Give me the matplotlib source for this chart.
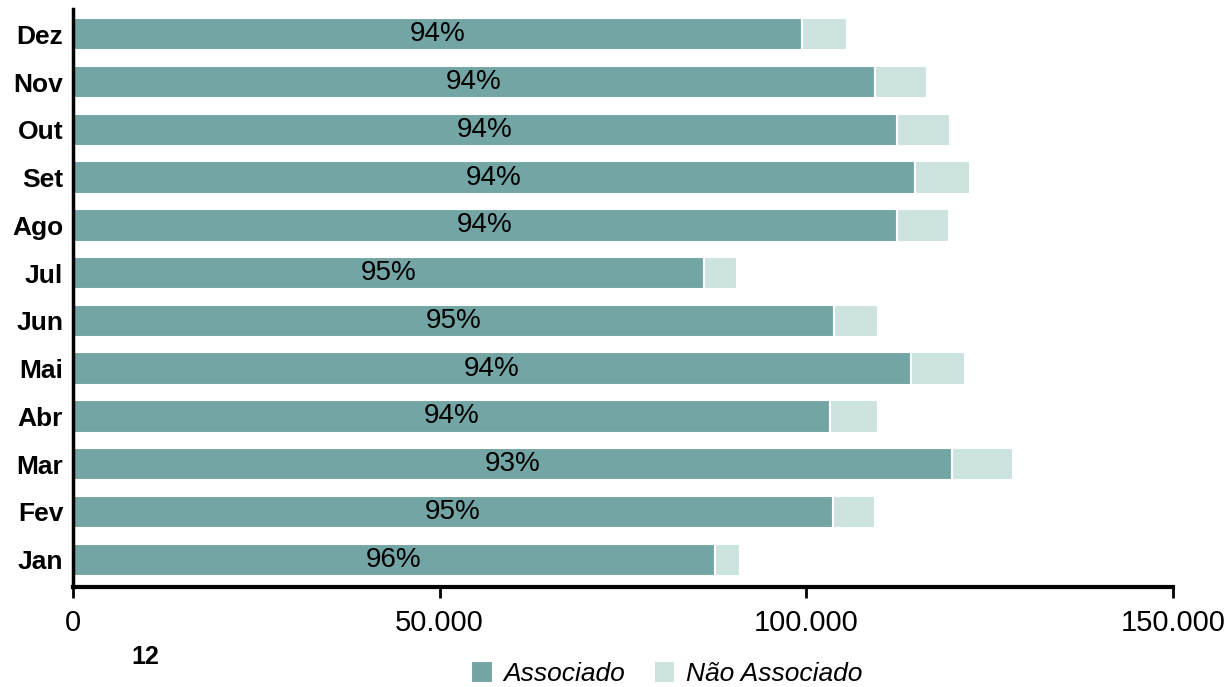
import matplotlib.pyplot as plt
from matplotlib.ticker import FuncFormatter

meses = ["Jan", "Fev", "Mar", "Abr", "Mai", "Jun", "Jul", "Ago", "Set", "Out", "Nov", "Dez"]
associado = [87500, 103600, 119800, 103200, 114300, 103800, 86100, 112300, 114800, 112400, 109400, 99400]
nao_associado = [3500, 5800, 8400, 6600, 7300, 6000, 4400, 7100, 7500, 7200, 7100, 6100]
percentuais = ["96%", "95%", "93%", "94%", "94%", "95%", "95%", "94%", "94%", "94%", "94%", "94%"]
ticks_x = [0, 50000, 100000, 150000]

cor_assoc = "#72A5A4"
cor_nao = "#CDE3DF"

plt.rcParams["font.family"] = ["Liberation Sans", "DejaVu Sans"]

fig = plt.figure(figsize=(12.3, 6.87), dpi=100)
ax = fig.add_axes([0.0593, 0.1456, 0.8944, 0.8414])

pos = list(range(len(meses)))
ax.barh(pos, associado, height=0.68, color=cor_assoc, edgecolor="white",
        linewidth=1.5, label="Associado")
ax.barh(pos, nao_associado, left=associado, height=0.68, color=cor_nao,
        edgecolor="white", linewidth=1.5, label="Não Associado")

# rótulo de percentual no meio da barra de associados
for y, v, p in zip(pos, associado, percentuais):
    ax.text(v / 2, y, p, ha="center", va="center", fontsize=20, color="black")

ax.set_xlim(0, 150000)
ax.set_ylim(-0.57, 11.53)
ax.set_xticks(ticks_x)
ax.xaxis.set_major_formatter(FuncFormatter(lambda x, _: f"{x:,.0f}".replace(",", ".")))
ax.set_yticks(pos)
ax.set_yticklabels(meses, fontsize=19, fontweight="bold")
ax.tick_params(axis="y", length=0, pad=7)
ax.tick_params(axis="x", length=8, width=2, labelsize=21, pad=8)

for lado in ["top", "right"]:
    ax.spines[lado].set_visible(False)
ax.spines["left"].set_linewidth(2.5)
ax.spines["bottom"].set_linewidth(3)
ax.set_facecolor("none")

fig.legend(loc="center", bbox_to_anchor=(0.542, 0.02), ncol=2, frameon=False,
           prop={"size": 19, "style": "italic"}, handlelength=0.8, handleheight=0.9,
           columnspacing=1.1, handletextpad=0.4)

fig.text(0.118, 0.043, "12", fontsize=18, fontweight="bold",
         ha="center", va="center")

fig.savefig("out.png", dpi=100)
